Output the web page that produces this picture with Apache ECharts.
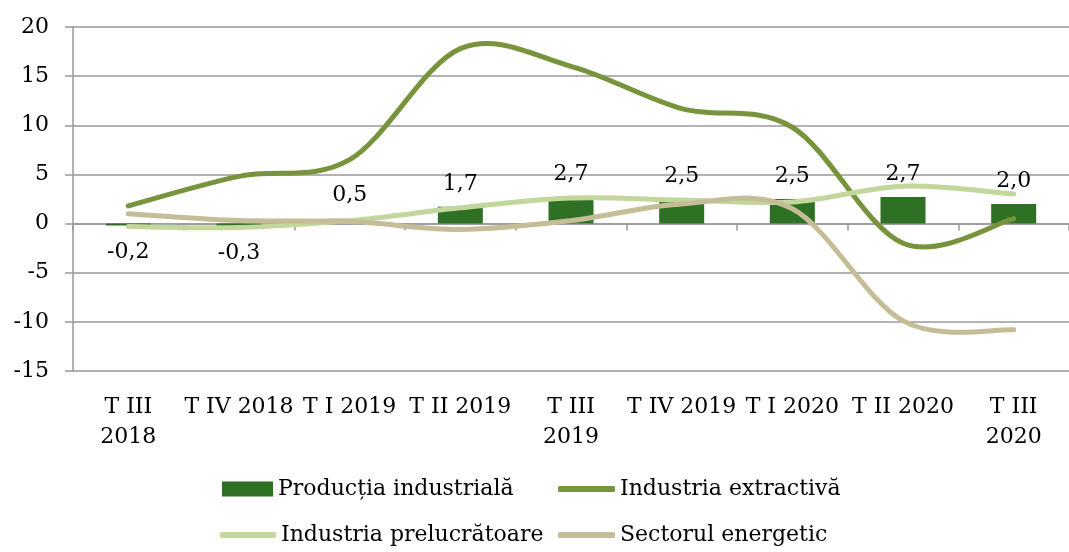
<!DOCTYPE html>
<html>
<head>
<meta charset="utf-8">
<script src="https://cdn.jsdelivr.net/npm/echarts@6/dist/echarts.min.js"></script>
<style>html,body{margin:0;padding:0;background:#fff}#c{width:1069px;height:552px}</style>
</head>
<body>
<div id="c"></div>
<script>
const categories = ["T III\n2018", "T IV 2018", "T I 2019", "T II 2019", "T III\n2019", "T IV 2019", "T I 2020", "T II 2020", "T III\n2020"];
const productiaIndustriala = [-0.2, -0.3, 0.5, 1.7, 2.7, 2.5, 2.5, 2.7, 2.0];
const industriaExtractiva = [1.8, 4.8, 6.5, 17.8, 16.0, 11.7, 9.8, -2.0, 0.5];
const industriaPrelucratoare = [-0.3, -0.4, 0.3, 1.6, 2.6, 2.4, 2.2, 3.8, 3.0];
const sectorulEnergetic = [1.0, 0.3, 0.2, -0.6, 0.3, 2.0, 1.5, -9.9, -10.8];
const yTicks = { min: -15, max: 20, interval: 5 };

const FONT = '"DejaVu Serif", "Liberation Serif", serif';
const C_BAR = '#2e7125', C_EXT = '#77933c', C_PRE = '#c3d69b', C_ENE = '#c4bd97';
const fmt = v => v.toFixed(1).replace('.', ',');

const chart = echarts.init(document.getElementById('c'), null, { renderer: 'canvas' });

function legendAt(name, left, top, iconType, color, w, h) {
  return {
    data: [{ name: name, icon: iconType, itemStyle: { color: color } }],
    left: left, top: top, orient: 'horizontal', padding: 0,
    itemWidth: w, itemHeight: h, itemGap: 0,
    selectedMode: false,
    textStyle: { fontFamily: FONT, fontSize: 22, color: '#000' }
  };
}

// Smooth curve (office-chart style Bezier) drawn through the chart's own scales
function smoothLine(name, values, color, z) {
  return {
    name: name, type: 'custom', xAxisIndex: 0, z: z,
    data: values.map((v, i) => [i, v]),
    encode: { x: 0, y: 1 },
    itemStyle: { color: color },
    renderItem: function (params, api) {
      if (params.dataIndex !== 0) return null;
      const pts = values.map((v, i) => api.coord([i, v]));
      const n = pts.length;
      let d = 'M' + pts[0][0] + ' ' + pts[0][1];
      for (let i = 0; i < n - 1; i++) {
        const p0 = pts[Math.max(i - 1, 0)], p1 = pts[i], p2 = pts[i + 1], p3 = pts[Math.min(i + 2, n - 1)];
        const c1x = p1[0] + (p2[0] - p0[0]) / 6, c1y = p1[1] + (p2[1] - p0[1]) / 6;
        const c2x = p2[0] - (p3[0] - p1[0]) / 6, c2y = p2[1] - (p3[1] - p1[1]) / 6;
        d += ' C' + c1x + ' ' + c1y + ' ' + c2x + ' ' + c2y + ' ' + p2[0] + ' ' + p2[1];
      }
      return {
        type: 'path',
        shape: { pathData: d },
        style: { fill: null, stroke: color, lineWidth: 5, lineCap: 'round', lineJoin: 'round' },
        silent: true
      };
    }
  };
}

chart.setOption({
  animation: false,
  backgroundColor: '#fff',
  grid: { left: 73, top: 27, width: 1007, height: 344, containLabel: false },
  legend: [
    legendAt('Producția industrială', 222, 478, 'rect', C_BAR, 51, 15),
    legendAt('Industria extractivă', 558, 478, 'roundRect', C_EXT, 57, 6),
    legendAt('Industria prelucrătoare', 220, 524, 'roundRect', C_PRE, 56, 6),
    legendAt('Sectorul energetic', 558, 524, 'roundRect', C_ENE, 57, 6)
  ],
  xAxis: [
    {
      type: 'category', data: categories, boundaryGap: true,
      axisLine: { show: true, onZero: true, lineStyle: { color: '#999', width: 1.5 } },
      axisTick: { show: true, length: 7, interval: 0, lineStyle: { color: '#999', width: 1.5 } },
      axisLabel: { show: false }
    },
    {
      type: 'category', data: categories, boundaryGap: true, position: 'bottom',
      axisLine: { show: false, onZero: false },
      axisTick: { show: false },
      axisLabel: { show: true, interval: 0, margin: 21, color: '#000', fontFamily: FONT, fontSize: 22, lineHeight: 30 }
    }
  ],
  yAxis: {
    type: 'value', min: yTicks.min, max: yTicks.max, interval: yTicks.interval,
    axisLine: { show: true, lineStyle: { color: '#999', width: 1.5 } },
    axisTick: { show: true, length: 8, lineStyle: { color: '#999', width: 1.5 } },
    splitLine: { show: true, lineStyle: { color: '#999', width: 1.5 } },
    axisLabel: { margin: 24, color: '#000', fontFamily: FONT, fontSize: 22 }
  },
  series: [
    {
      name: 'Producția industrială', type: 'bar', xAxisIndex: 0, barWidth: 45,
      itemStyle: { color: C_BAR },
      data: productiaIndustriala.map(v => ({
        value: v,
        label: v < 0 ? { position: 'bottom', distance: 16 } : { position: 'top', distance: 12 }
      })),
      label: { show: true, color: '#000', fontFamily: FONT, fontSize: 22, formatter: p => fmt(p.value) },
      z: 2
    },
    smoothLine('Industria extractivă', industriaExtractiva, C_EXT, 3),
    smoothLine('Industria prelucrătoare', industriaPrelucratoare, C_PRE, 4),
    smoothLine('Sectorul energetic', sectorulEnergetic, C_ENE, 5)
  ]
});
</script>
</body>
</html>
